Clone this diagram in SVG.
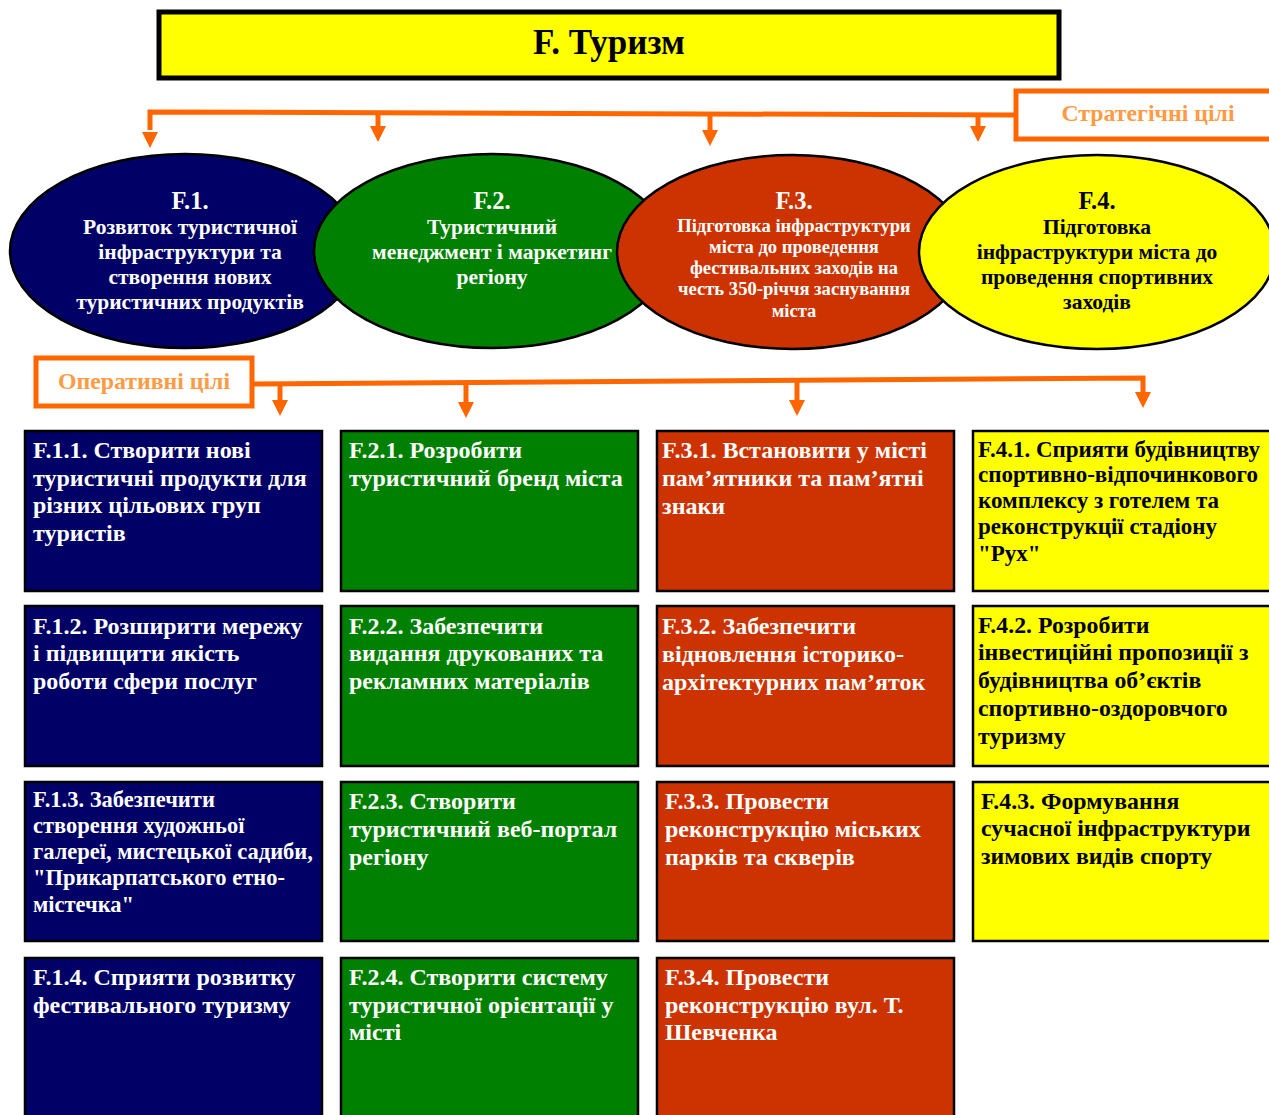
<svg xmlns="http://www.w3.org/2000/svg" width="1269" height="1115" viewBox="0 0 1269 1115">
<defs>
<style>
.t{font-family:"Liberation Serif","Times New Roman",serif;font-weight:bold}
.w{fill:#fff}
.k{fill:#000}
.b{font-size:24px}
.h{font-size:24.5px}
.box{stroke:#000;stroke-width:2.5}
.ell{stroke:#000;stroke-width:2.5}
.con{fill:none;stroke:#FF6600;stroke-width:5}
.lbl{fill:#fff;stroke:#FF6600;stroke-width:5}
.lt{fill:#FF9A45;font-size:23.8px}
</style>
<path id="tri" d="M-8,0 L8,0 L0,16 Z" fill="#FF6600"/>
</defs>
<rect width="1269" height="1115" fill="#fff"/>

<g id="title">
<rect x="159" y="12" width="900" height="66" fill="#FFFF00" stroke="#000" stroke-width="5"/>
<text class="t k" x="609" y="54" font-size="35" text-anchor="middle">F. Туризм</text>
</g>

<g id="connectors">
<path class="con" d="M1016,115 L150,112 L150,130"/>
<path class="con" d="M378,112 L378,126"/>
<path class="con" d="M710,113 L710,130"/>
<path class="con" d="M978,114 L978,126"/>
<use href="#tri" x="150" y="132"/>
<use href="#tri" x="378" y="126"/>
<use href="#tri" x="710" y="130"/>
<use href="#tri" x="978" y="126"/>
<path class="con" d="M253,384 L1143,378 L1143,394"/>
<path class="con" d="M280,384 L280,400"/>
<path class="con" d="M466,383 L466,402"/>
<path class="con" d="M797,381 L797,400"/>
<use href="#tri" x="280" y="400"/>
<use href="#tri" x="466" y="402"/>
<use href="#tri" x="797" y="400"/>
<use href="#tri" x="1143" y="392"/>
</g>

<g id="strat-label">
<rect class="lbl" x="1016" y="91" width="260" height="48"/>
<text class="t lt" x="1148" y="121" text-anchor="middle">Стратегічні цілі</text>
</g>

<g id="oper-label">
<rect class="lbl" x="36" y="358" width="216" height="48"/>
<text class="t lt" x="144" y="389" text-anchor="middle">Оперативні цілі</text>
</g>

<g id="F1">
<ellipse class="ell" cx="185" cy="251" rx="175" ry="97" fill="#000066"/>
<text class="t w" font-size="21.5" text-anchor="middle"><tspan x="190" y="209" class="h">F.1.</tspan><tspan x="190" y="234">Розвиток туристичної</tspan><tspan x="190" y="259">інфраструктури та</tspan><tspan x="190" y="284">створення нових</tspan><tspan x="190" y="309">туристичних продуктів</tspan></text>
</g>

<g id="F2">
<ellipse class="ell" cx="492" cy="251" rx="178" ry="97" fill="#008000"/>
<text class="t w" font-size="21.5" text-anchor="middle"><tspan x="492" y="209" class="h">F.2.</tspan><tspan x="492" y="234">Туристичний</tspan><tspan x="492" y="259">менеджмент і маркетинг</tspan><tspan x="492" y="284">регіону</tspan></text>
</g>

<g id="F3">
<ellipse class="ell" cx="792" cy="252" rx="175" ry="97" fill="#CC3300"/>
<text class="t w" text-anchor="middle"><tspan x="794" y="209" class="h">F.3.</tspan><tspan x="794" y="232" font-size="18.6">Підготовка інфраструктури</tspan><tspan x="794" y="253" font-size="18.6">міста до проведення</tspan><tspan x="794" y="274" font-size="18.6">фестивальних заходів на</tspan><tspan x="794" y="295" font-size="18.6">честь 350-річчя заснування</tspan><tspan x="794" y="317" font-size="18.6">міста</tspan></text>
</g>

<g id="F4">
<ellipse class="ell" cx="1097" cy="252" rx="178" ry="97" fill="#FFFF00"/>
<text class="t k" font-size="21.5" text-anchor="middle"><tspan x="1097" y="209" class="h">F.4.</tspan><tspan x="1097" y="234">Підготовка</tspan><tspan x="1097" y="259">інфраструктури міста до</tspan><tspan x="1097" y="284">проведення спортивних</tspan><tspan x="1097" y="309">заходів</tspan></text>
</g>

<g id="F11"><rect class="box" x="25" y="431" width="297" height="160" fill="#000066"/>
<text class="t w b"><tspan x="33" y="458">F.1.1. Створити нові</tspan><tspan x="33" y="486">туристичні продукти для</tspan><tspan x="33" y="513">різних цільових груп</tspan><tspan x="33" y="541">туристів</tspan></text></g>

<g id="F12"><rect class="box" x="25" y="606" width="297" height="160" fill="#000066"/>
<text class="t w b"><tspan x="33" y="634">F.1.2. Розширити мережу</tspan><tspan x="33" y="661">і підвищити якість</tspan><tspan x="33" y="689">роботи сфери послуг</tspan></text></g>

<g id="F13"><rect class="box" x="25" y="782" width="297" height="159" fill="#000066"/>
<text class="t w" font-size="22.5"><tspan x="33" y="807">F.1.3. Забезпечити</tspan><tspan x="33" y="833">створення художньої</tspan><tspan x="33" y="859">галереї, мистецької садиби,</tspan><tspan x="33" y="885">"Прикарпатського етно-</tspan><tspan x="33" y="912">містечка"</tspan></text></g>

<g id="F14"><rect class="box" x="25" y="958" width="297" height="170" fill="#000066"/>
<text class="t w b"><tspan x="33" y="985">F.1.4. Сприяти розвитку</tspan><tspan x="33" y="1013">фестивального туризму</tspan></text></g>

<g id="F21"><rect class="box" x="341" y="431" width="297" height="160" fill="#008000"/>
<text class="t w b"><tspan x="349" y="458">F.2.1. Розробити</tspan><tspan x="349" y="486">туристичний бренд міста</tspan></text></g>

<g id="F22"><rect class="box" x="341" y="606" width="297" height="160" fill="#008000"/>
<text class="t w b"><tspan x="349" y="634">F.2.2. Забезпечити</tspan><tspan x="349" y="661">видання друкованих та</tspan><tspan x="349" y="689">рекламних матеріалів</tspan></text></g>

<g id="F23"><rect class="box" x="341" y="782" width="297" height="159" fill="#008000"/>
<text class="t w b"><tspan x="349" y="809">F.2.3. Створити</tspan><tspan x="349" y="837">туристичний веб-портал</tspan><tspan x="349" y="865">регіону</tspan></text></g>

<g id="F24"><rect class="box" x="341" y="958" width="297" height="170" fill="#008000"/>
<text class="t w b"><tspan x="349" y="985">F.2.4. Створити систему</tspan><tspan x="349" y="1013">туристичної орієнтації у</tspan><tspan x="349" y="1040">місті</tspan></text></g>

<g id="F31"><rect class="box" x="657" y="431" width="297" height="160" fill="#CC3300"/>
<text class="t w b"><tspan x="662" y="458">F.3.1. Встановити у місті</tspan><tspan x="662" y="486">пам’ятники та пам’ятні</tspan><tspan x="662" y="514">знаки</tspan></text></g>

<g id="F32"><rect class="box" x="657" y="606" width="297" height="160" fill="#CC3300"/>
<text class="t w b"><tspan x="662" y="634">F.3.2. Забезпечити</tspan><tspan x="662" y="662">відновлення історико-</tspan><tspan x="662" y="690">архітектурних пам’яток</tspan></text></g>

<g id="F33"><rect class="box" x="657" y="782" width="297" height="159" fill="#CC3300"/>
<text class="t w b"><tspan x="665" y="809">F.3.3. Провести</tspan><tspan x="665" y="837">реконструкцію міських</tspan><tspan x="665" y="865">парків та скверів</tspan></text></g>

<g id="F34"><rect class="box" x="657" y="958" width="297" height="170" fill="#CC3300"/>
<text class="t w b"><tspan x="665" y="985">F.3.4. Провести</tspan><tspan x="665" y="1013">реконструкцію вул. Т.</tspan><tspan x="665" y="1040">Шевченка</tspan></text></g>

<g id="F41"><rect class="box" x="973" y="431" width="310" height="160" fill="#FFFF00"/>
<text class="t k" font-size="23"><tspan x="978" y="457">F.4.1. Сприяти будівництву</tspan><tspan x="978" y="482">спортивно-відпочинкового</tspan><tspan x="978" y="508">комплексу з готелем та</tspan><tspan x="978" y="534">реконструкції стадіону</tspan><tspan x="978" y="561">"Рух"</tspan></text></g>

<g id="F42"><rect class="box" x="973" y="606" width="310" height="160" fill="#FFFF00"/>
<text class="t k" font-size="23.8"><tspan x="978" y="633">F.4.2. Розробити</tspan><tspan x="978" y="660">інвестиційні пропозиції з</tspan><tspan x="978" y="688">будівництва об’єктів</tspan><tspan x="978" y="716">спортивно-оздоровчого</tspan><tspan x="978" y="744">туризму</tspan></text></g>

<g id="F43"><rect class="box" x="973" y="782" width="310" height="159" fill="#FFFF00"/>
<text class="t k" font-size="23.8"><tspan x="981" y="809">F.4.3. Формування</tspan><tspan x="981" y="836">сучасної інфраструктури</tspan><tspan x="981" y="864">зимових видів спорту</tspan></text></g>
</svg>
